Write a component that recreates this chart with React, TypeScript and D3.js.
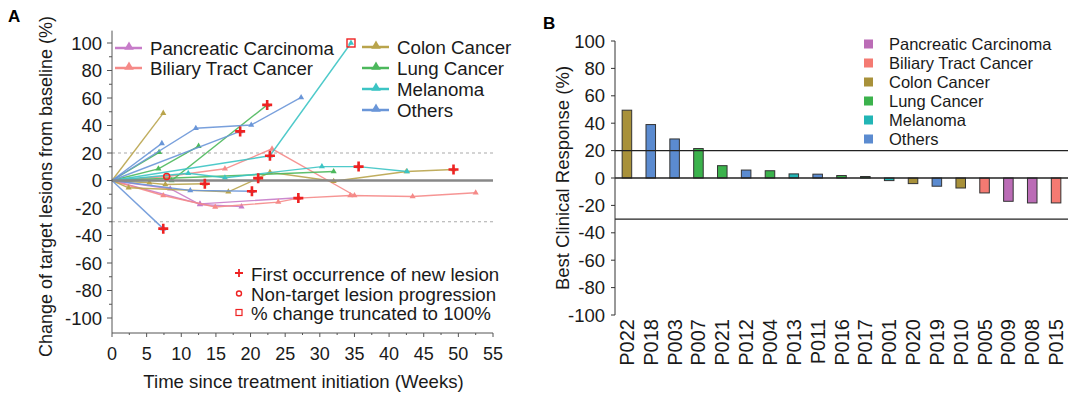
import { useRef, useEffect } from 'react'
import * as d3 from 'd3'

const FONT = "'Liberation Sans', Arial, Helvetica, sans-serif"

const CATEGORIES = ['Pancreatic Carcinoma', 'Biliary Tract Cancer', 'Colon Cancer', 'Lung Cancer', 'Melanoma', 'Others']
const LINE_COLORS = ['#c77cc9', '#f58a88', '#b9a44c', '#4cb85c', '#3cc4c4', '#6a96d8']
const BAR_COLORS = ['#bb6cb6', '#f47a72', '#a8913a', '#3bb24c', '#22b5b5', '#5b8bd0']

const WEEK_TICKS = [0, 5, 10, 15, 20, 25, 30, 35, 40, 45, 50, 55]
const PCT_TICKS = [-100, -80, -60, -40, -20, 0, 20, 40, 60, 80, 100]

// panel A: one array per patient, [week, % change]
const pancreatic1: [number, number][] = [[0, 0], [8.4, -6], [12.7, -17.5], [18.7, -19]]
const pancreatic2: [number, number][] = [[0, 0], [12.7, -17], [26.9, -12.5]]
const biliary1: [number, number][] = [[0, 0], [7.9, 2.9], [16.3, 8.5], [23.1, 23], [35, -10.9]]
const biliary2: [number, number][] = [[0, 0], [7.4, -10.9], [14.9, -19.3], [24, -15.7], [26.9, -12.8], [34.4, -10.9], [43.4, -11.6], [52.5, -8.9]]
const colon1: [number, number][] = [[0, 0], [7.4, 49]]
const colon2: [number, number][] = [[0, 0], [5.4, -1.7], [7.7, -2.9], [13.4, -2.4]]
const colon3: [number, number][] = [[0, 0], [2.4, -5.3], [16.8, -8.2], [21.1, 1.7], [22.8, 6], [32, -0.5], [42.5, 6.5], [49.3, 8]]
const lung1: [number, number][] = [[0, 0], [6.7, 8.5], [12.5, 25]]
const lung2: [number, number][] = [[0, 0], [6.8, 20.5]]
const lung3: [number, number][] = [[0, 0], [8.6, 0], [22.4, 55]]
const lung4: [number, number][] = [[0, 0], [32, 6.5]]
const melanoma1: [number, number][] = [[0, 0], [22.8, 18], [34.5, 100]]
const melanoma2: [number, number][] = [[0, 0], [11, 5.3], [16.3, 2], [30.3, 10.1], [35.6, 10.1], [42.6, 6.5]]
const others1: [number, number][] = [[0, 0], [12.1, 38], [20.1, 40.4], [27.3, 60.4]]
const others2: [number, number][] = [[0, 0], [18.5, 35.7]]
const others3: [number, number][] = [[0, 0], [7.2, 27]]
const others4: [number, number][] = [[0, 0], [7.4, -35]]
const others5: [number, number][] = [[0, 0], [11.3, -7.2], [20.2, -7.8]]

const NEW_LESION: [number, number][] = [[22.4, 55], [18.5, 35.7], [22.8, 18], [13.4, -2.4], [21.1, 1.7], [20.2, -7.8], [26.9, -12.8], [7.4, -35], [35.6, 10.1], [49.3, 8]]
const NON_TARGET: [number, number][] = [[7.9, 2.9]]
const TRUNCATED: [number, number][] = [[34.5, 100]]

// panel B
const PATIENTS = ['P022', 'P018', 'P003', 'P007', 'P021', 'P012', 'P004', 'P013', 'P011', 'P016', 'P017', 'P001', 'P020', 'P019', 'P010', 'P005', 'P009', 'P008', 'P015']
const BEST_RESPONSE = [49.5, 39, 28.5, 21.5, 9, 5.8, 5.3, 3, 2.8, 1.8, 1.1, -1.9, -4.1, -6, -7.3, -10.9, -17, -18.2, -18.2]
const PATIENT_CAT = ['Colon Cancer', 'Others', 'Others', 'Lung Cancer', 'Lung Cancer', 'Others', 'Lung Cancer', 'Melanoma', 'Others', 'Lung Cancer', 'Lung Cancer', 'Melanoma', 'Colon Cancer', 'Others', 'Colon Cancer', 'Biliary Tract Cancer', 'Pancreatic Carcinoma', 'Pancreatic Carcinoma', 'Biliary Tract Cancer']

export default function App() {
  const svgRef = useRef<SVGSVGElement>(null)

  useEffect(() => {
    const svg = d3.select(svgRef.current)
    svg.selectAll('*').remove()

    const lineColor = d3.scaleOrdinal<string, string>().domain(CATEGORIES).range(LINE_COLORS)
    const barColor = d3.scaleOrdinal<string, string>().domain(CATEGORIES).range(BAR_COLORS)

    const txt = (g: any, x: number, y: number, s: string, size = 18, anchor = 'start') =>
      g.append('text')
        .attr('x', x).attr('y', y)
        .attr('text-anchor', anchor).attr('dominant-baseline', 'central')
        .attr('font-family', FONT).attr('font-size', size).attr('fill', '#1a1a1a')
        .text(s)

    // ---------- panel A ----------
    const a = svg.append('g')
    const x = d3.scaleLinear().domain([0, 55]).range([112, 493])
    const y = d3.scaleLinear().domain([-100, 100]).range([318, 43])
    const yTop = y(109), yBot = 333

    a.append('text').attr('x', 8).attr('y', 22).attr('font-family', FONT)
      .attr('font-size', 17).attr('font-weight', 'bold').text('A')

    // reference lines
    ;[20, -30].forEach((v) => {
      a.append('line').attr('x1', x(0)).attr('x2', x(55)).attr('y1', y(v)).attr('y2', y(v))
        .attr('stroke', '#aaa').attr('stroke-width', 1.2).attr('stroke-dasharray', '3,3')
    })

    const series = [
      ['Pancreatic Carcinoma', pancreatic1], ['Pancreatic Carcinoma', pancreatic2],
      ['Biliary Tract Cancer', biliary1], ['Biliary Tract Cancer', biliary2],
      ['Colon Cancer', colon1], ['Colon Cancer', colon2], ['Colon Cancer', colon3],
      ['Lung Cancer', lung1], ['Lung Cancer', lung2], ['Lung Cancer', lung3], ['Lung Cancer', lung4],
      ['Melanoma', melanoma1], ['Melanoma', melanoma2],
      ['Others', others1], ['Others', others2], ['Others', others3], ['Others', others4], ['Others', others5],
    ] as [string, [number, number][]][]

    const lineGen = d3.line<[number, number]>().x((d) => x(d[0])).y((d) => y(d[1]))
    const tri = d3.symbol().type(d3.symbolTriangle).size(16)

    series.forEach(([cat, pts]) => {
      a.append('path').datum(pts).attr('d', lineGen)
        .attr('fill', 'none').attr('stroke', lineColor(cat)).attr('stroke-width', 1.4).attr('opacity', 0.9)
      pts.slice(1).forEach((p) => {
        a.append('path').attr('d', tri).attr('transform', `translate(${x(p[0])},${y(p[1])})`)
          .attr('fill', lineColor(cat))
      })
    })

    // zero line
    a.append('line').attr('x1', x(0)).attr('x2', x(55)).attr('y1', y(0)).attr('y2', y(0))
      .attr('stroke', '#888').attr('stroke-width', 2.5)

    const red = '#ee2222'
    const plus = (g: any, cx: number, cy: number, r: number, w: number) => {
      g.append('path').attr('d', `M${cx - r},${cy}H${cx + r}M${cx},${cy - r}V${cy + r}`)
        .attr('stroke', red).attr('stroke-width', w).attr('fill', 'none')
    }
    NEW_LESION.forEach((p) => plus(a, x(p[0]), y(p[1]), 5, 2.6))
    NON_TARGET.forEach((p) => {
      a.append('circle').attr('cx', x(p[0])).attr('cy', y(p[1])).attr('r', 3)
        .attr('fill', 'none').attr('stroke', red).attr('stroke-width', 1.6)
    })
    TRUNCATED.forEach((p) => {
      a.append('rect').attr('x', x(p[0]) - 4).attr('y', y(p[1]) - 4).attr('width', 8).attr('height', 8)
        .attr('fill', 'none').attr('stroke', red).attr('stroke-width', 1.4)
    })

    // axes
    a.append('line').attr('x1', x(0)).attr('x2', x(0)).attr('y1', yTop).attr('y2', yBot).attr('stroke', '#555')
    a.append('line').attr('x1', x(0)).attr('x2', x(55)).attr('y1', yBot).attr('y2', yBot).attr('stroke', '#555')
    d3.range(-100, 101, 10).forEach((v) => {
      a.append('line').attr('x1', x(0) - (v % 20 === 0 ? 5 : 3)).attr('x2', x(0)).attr('y1', y(v)).attr('y2', y(v))
        .attr('stroke', '#555')
    })
    PCT_TICKS.forEach((v) => txt(a, x(0) - 10, y(v), String(v), 18.5, 'end'))
    d3.range(0, 55.1, 2.5).forEach((w) => {
      a.append('line').attr('x1', x(w)).attr('x2', x(w)).attr('y1', yBot).attr('y2', yBot + (w % 5 === 0 ? 4 : 2))
        .attr('stroke', '#555')
    })
    WEEK_TICKS.forEach((w) => txt(a, x(w), 354, String(w), 18, 'middle'))
    txt(a, x(27.5) + 1, 381, 'Time since treatment initiation (Weeks)', 18.6, 'middle')
    a.append('text').attr('transform', `translate(46,${y(0) + 6}) rotate(-90)`)
      .attr('text-anchor', 'middle').attr('dominant-baseline', 'central')
      .attr('font-family', FONT).attr('font-size', 18).attr('fill', '#1a1a1a')
      .text('Change of target lesions from baseline (%)')

    // legend A
    const legA: [string, number, number][] = [
      ['Pancreatic Carcinoma', 115, 48], ['Biliary Tract Cancer', 115, 68],
      ['Colon Cancer', 362, 47], ['Lung Cancer', 362, 68], ['Melanoma', 362, 89], ['Others', 362, 110],
    ]
    const triL = d3.symbol().type(d3.symbolTriangle).size(40)
    legA.forEach(([cat, lx, ly]) => {
      a.append('line').attr('x1', lx).attr('x2', lx + 27).attr('y1', ly).attr('y2', ly)
        .attr('stroke', lineColor(cat)).attr('stroke-width', 2.5)
      a.append('path').attr('d', triL).attr('transform', `translate(${lx + 14},${ly - 1})`).attr('fill', lineColor(cat))
      txt(a, lx + 35, ly, cat, 18.7)
    })
    plus(a, 239, 273, 4, 1.8)
    txt(a, 251, 274, 'First occurrence of new lesion', 18.7)
    a.append('circle').attr('cx', 239).attr('cy', 293.5).attr('r', 2.5)
      .attr('fill', 'none').attr('stroke', red).attr('stroke-width', 1.4)
    txt(a, 251, 294, 'Non-target lesion progression', 18.7)
    a.append('rect').attr('x', 236).attr('y', 309.5).attr('width', 6).attr('height', 6)
      .attr('fill', 'none').attr('stroke', red).attr('stroke-width', 1.2)
    txt(a, 251, 313, '% change truncated to 100%', 18.7)

    // ---------- panel B ----------
    const b = svg.append('g')
    const xb = d3.scaleBand<string>().domain(PATIENTS).range([615, 1068]).paddingInner(0.6).paddingOuter(0.3)
    const yb = d3.scaleLinear().domain([-100, 100]).range([315, 41])

    b.append('text').attr('x', 543).attr('y', 29).attr('font-family', FONT)
      .attr('font-size', 17).attr('font-weight', 'bold').text('B')

    PATIENTS.forEach((p, i) => {
      const v = BEST_RESPONSE[i]
      b.append('rect').attr('x', xb(p)!).attr('width', xb.bandwidth())
        .attr('y', yb(Math.max(v, 0))).attr('height', Math.abs(yb(v) - yb(0)))
        .attr('fill', barColor(PATIENT_CAT[i])).attr('stroke', '#333').attr('stroke-width', 1)
    })
    ;[20, 0, -30].forEach((v) => {
      b.append('line').attr('x1', 615).attr('x2', 1068).attr('y1', yb(v)).attr('y2', yb(v))
        .attr('stroke', '#222').attr('stroke-width', 1.3)
    })
    b.append('line').attr('x1', 615).attr('x2', 615).attr('y1', yb(100)).attr('y2', yb(-100)).attr('stroke', '#333')
    PCT_TICKS.forEach((v) => {
      b.append('line').attr('x1', 611).attr('x2', 615).attr('y1', yb(v)).attr('y2', yb(v)).attr('stroke', '#333')
      txt(b, 605, yb(v), String(v), 18.5, 'end')
    })
    PATIENTS.forEach((p) => {
      b.append('text').attr('transform', `translate(${xb(p)! + xb.bandwidth() / 2},319) rotate(-90)`)
        .attr('text-anchor', 'end').attr('dominant-baseline', 'central')
        .attr('font-family', FONT).attr('font-size', 20).attr('fill', '#1a1a1a').text(p)
    })
    b.append('text').attr('transform', `translate(562,${yb(0)}) rotate(-90)`)
      .attr('text-anchor', 'middle').attr('dominant-baseline', 'central')
      .attr('font-family', FONT).attr('font-size', 18.5).attr('fill', '#1a1a1a')
      .text('Best Clinical Response (%)')

    CATEGORIES.forEach((cat, i) => {
      const ly = 44 + i * 19
      b.append('rect').attr('x', 864).attr('y', ly - 4.5).attr('width', 9).attr('height', 9).attr('fill', barColor(cat))
      txt(b, 889, ly, cat, 16.5)
    })
  }, [])

  return (
    <svg ref={svgRef} width={1080} height={397}
      style={{ position: 'absolute', left: 0, top: 0, background: '#fff' }} />
  )
}
